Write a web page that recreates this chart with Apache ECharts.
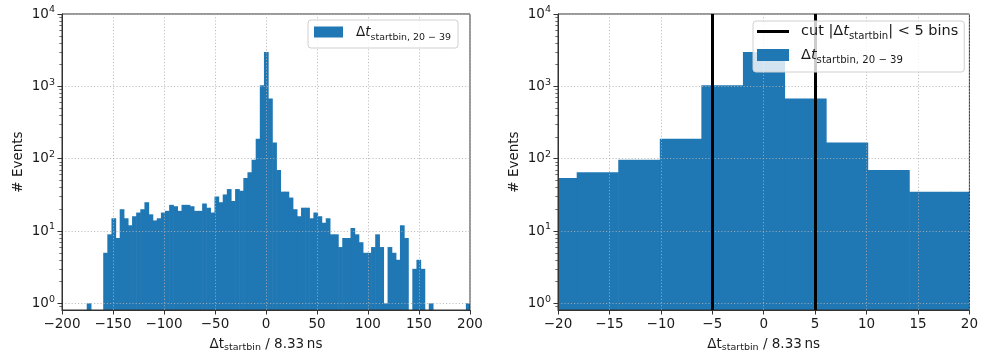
<!DOCTYPE html>
<html>
<head>
<meta charset="utf-8">
<script src="https://cdn.jsdelivr.net/npm/echarts@6/dist/echarts.min.js"></script>
<style>
  html, body { margin: 0; padding: 0; background: #ffffff; }
  #chart { width: 981px; height: 358px; }
</style>
</head>
<body>
<div id="chart"></div>
<script>
// Histogram binning: equal-width bins spanning [BIN_LOW, BIN_HIGH]
const BIN_LOW = -200;
const BIN_HIGH = 200;
const BIN_COUNT = 99;

// Events per bin, bin index 0 … 98
const COUNTS = [
  0, 0, 0, 0, 0, 0, 1, 0, 0, 0,
  5, 9, 15, 8, 20, 15, 12, 16, 18, 20,
  25, 17, 14, 15, 18, 19, 23, 22, 19, 23,
  23, 22, 19, 19, 24, 21, 18, 30, 25, 32,
  38, 26, 38, 36, 54, 65, 97, 189, 1035, 2974,
  680, 167, 70, 35, 35, 29, 20, 16, 21, 21,
  15, 18, 16, 13, 15, 9, 9, 6, 8, 8,
  11, 9, 7, 5, 5, 6, 9, 6, 1, 6,
  5, 4, 12, 8, 0, 3, 4, 3, 0, 1,
  0, 0, 0, 0, 0, 0, 0, 0, 1
];

// Selection cut on the start-bin difference
const CUT_POSITIONS = [-5, 5];

// Axis ticks
const LEFT_X_TICKS = [-200, -150, -100, -50, 0, 50, 100, 150, 200];
const RIGHT_X_TICKS = [-20, -15, -10, -5, 0, 5, 10, 15, 20];
const Y_TICKS = [1, 10, 100, 1000, 10000];
const Y_MINOR_TICKS = [
  0.9,
  2, 3, 4, 5, 6, 7, 8, 9,
  20, 30, 40, 50, 60, 70, 80, 90,
  200, 300, 400, 500, 600, 700, 800, 900,
  2000, 3000, 4000, 5000, 6000, 7000, 8000, 9000
];
const Y_MIN = 0.809;
const Y_MAX = 10000;

const FONT = 'DejaVu Sans';
const INK = '#1a1a1a';
const SPINE = '#333333';
const GRID_LINE = '#b0b0b0';
const BAR_COLOR = '#1f77b4';

const binWidth = (BIN_HIGH - BIN_LOW) / BIN_COUNT;
const histData = [];
COUNTS.forEach(function (n, k) {
  if (n > 0) histData.push([BIN_LOW + k * binWidth, BIN_LOW + (k + 1) * binWidth, n]);
});

function signed(v) {
  return v < 0 ? '\u2212' + Math.abs(v) : String(v);
}

// One filled histogram bin, from its count down to the bottom of the plot
function renderBin(params, api) {
  const x0 = api.value(0), x1 = api.value(1), n = api.value(2);
  const a = api.coord([x0, n]);
  const b = api.coord([x1, n]);
  const cs = params.coordSys;
  const bottom = cs.y + cs.height;
  const rect = echarts.graphic.clipRectByRect(
    { x: a[0], y: a[1], width: b[0] - a[0] + 0.6, height: bottom - a[1] },
    { x: cs.x, y: cs.y, width: cs.width, height: cs.height }
  );
  if (!rect) return null;
  return { type: 'rect', shape: rect, style: { fill: BAR_COLOR } };
}

const xNameRich = {
  m: { fontFamily: FONT, fontSize: 13.5, color: INK, lineHeight: 18, verticalAlign: 'middle' },
  s: { fontFamily: FONT, fontSize: 9.5, color: INK, lineHeight: 10, verticalAlign: 'bottom' }
};

function xAxisFor(gridIndex, min, max, interval, ticks) {
  return {
    type: 'value', gridIndex: gridIndex, min: min, max: max, interval: interval, z: 3,
    axisLine: { show: true, onZero: false, lineStyle: { color: SPINE, width: 1 } },
    axisTick: { show: true, inside: false, length: 4.5, customValues: ticks, lineStyle: { color: SPINE, width: 1 } },
    axisLabel: {
      show: true, margin: 7, customValues: ticks,
      fontFamily: FONT, fontSize: 13.5, color: INK, formatter: signed
    },
    splitLine: { show: true, lineStyle: { color: GRID_LINE, width: 0.8, type: [1.2, 2] } },
    name: '{m|\u0394t}{s|startbin}{m| / 8.33\u2009ns}',
    nameLocation: 'middle', nameGap: 25,
    nameTextStyle: { rich: xNameRich }
  };
}

function yAxisMajor(gridIndex) {
  return {
    type: 'log', logBase: 10, gridIndex: gridIndex, min: Y_MIN, max: Y_MAX, position: 'left', z: 3,
    axisLine: { show: true, onZero: false, lineStyle: { color: SPINE, width: 1 } },
    axisTick: { show: true, inside: false, length: 4.5, customValues: Y_TICKS, lineStyle: { color: SPINE, width: 1 } },
    axisLabel: {
      show: true, margin: 7, customValues: Y_TICKS,
      formatter: function (v) { return '{b|10}{e|' + Math.round(Math.log10(v)) + '}'; },
      rich: {
        b: { fontFamily: FONT, fontSize: 13.5, color: INK, lineHeight: 18, verticalAlign: 'middle' },
        e: { fontFamily: FONT, fontSize: 9.5, color: INK, lineHeight: 9, verticalAlign: 'top' }
      }
    },
    splitLine: { show: true, lineStyle: { color: GRID_LINE, width: 0.8, type: [1.2, 2] } },
    minorTick: { show: false },
    name: '# Events', nameLocation: 'middle', nameGap: 37,
    nameTextStyle: { fontFamily: FONT, fontSize: 13.5, color: INK }
  };
}

function yAxisMinor(gridIndex) {
  return {
    type: 'log', logBase: 10, gridIndex: gridIndex, min: Y_MIN, max: Y_MAX, position: 'left', z: 3,
    axisLine: { show: false, onZero: false },
    axisLabel: { show: false },
    splitLine: { show: false },
    axisTick: { show: true, inside: false, length: 2.7, customValues: Y_MINOR_TICKS, lineStyle: { color: SPINE, width: 0.7 } }
  };
}

const legendRich = function (size) {
  return {
    n: { fontFamily: FONT, fontSize: size, color: INK, lineHeight: 20, verticalAlign: 'middle' },
    t: { fontFamily: FONT, fontSize: size, fontStyle: 'italic', color: INK, lineHeight: 20, verticalAlign: 'middle' },
    s: { fontFamily: FONT, fontSize: size * 0.7, color: INK, lineHeight: 10, verticalAlign: 'bottom' }
  };
};

const HIST_LABEL = '{n|\u0394}{t|t}{s|startbin, 20 \u2212 39}';
const CUT_LABEL = '{n|cut |\u0394}{t|t}{s|startbin}{n|| < 5 bins}';

const option = {
  animation: false,
  backgroundColor: '#ffffff',
  grid: [
    { left: 62, top: 14, width: 408, height: 298, show: true, z: 3, borderColor: SPINE, borderWidth: 1, backgroundColor: 'transparent' },
    { left: 558, top: 14, width: 413, height: 298, show: true, z: 3, borderColor: SPINE, borderWidth: 1, backgroundColor: 'transparent' }
  ],
  xAxis: [
    xAxisFor(0, -200, 200, 50, LEFT_X_TICKS),
    xAxisFor(1, -20, 20, 5, RIGHT_X_TICKS)
  ],
  yAxis: [
    yAxisMajor(0), yAxisMinor(0),
    yAxisMajor(1), yAxisMinor(1)
  ],
  legend: [
    {
      left: 308, top: 20, orient: 'vertical', z: 6,
      selectedMode: false,
      data: [{ name: 'histLeft', icon: 'rect' }],
      itemWidth: 29, itemHeight: 11,
      backgroundColor: 'rgba(255,255,255,0.8)', borderColor: '#d0d0d0', borderWidth: 1, borderRadius: 3,
      padding: [5, 7, 6, 6],
      formatter: function () { return HIST_LABEL; },
      textStyle: { padding: [0, 0, 0, 8], rich: legendRich(13.5) }
    },
    {
      left: 753, top: 21, orient: 'vertical', z: 6,
      selectedMode: false,
      data: [
        { name: 'cut', icon: 'path://M0,0L34,0L34,3.2L0,3.2Z', itemStyle: { color: '#000000' } },
        { name: 'histRight', icon: 'rect' }
      ],
      itemWidth: 32, itemHeight: 12, itemGap: 6,
      backgroundColor: 'rgba(255,255,255,0.8)', borderColor: '#d0d0d0', borderWidth: 1, borderRadius: 3,
      padding: [3, 6, 7, 4],
      formatter: function (name) { return name === 'cut' ? CUT_LABEL : HIST_LABEL; },
      textStyle: { padding: [0, 0, 0, 7], rich: legendRich(14.5) }
    }
  ],
  series: [
    {
      type: 'custom', name: 'histLeft', xAxisIndex: 0, yAxisIndex: 0,
      data: histData, encode: { x: [0, 1], y: 2 }, renderItem: renderBin,
      itemStyle: { color: BAR_COLOR }, silent: true, z: 2
    },
    {
      type: 'custom', name: 'histRight', xAxisIndex: 1, yAxisIndex: 2,
      data: histData, encode: { x: [0, 1], y: 2 }, renderItem: renderBin,
      itemStyle: { color: BAR_COLOR }, silent: true, z: 2
    },
    {
      type: 'line', name: 'cut', xAxisIndex: 1, yAxisIndex: 2,
      data: [], symbol: 'none', z: 4, silent: true,
      itemStyle: { color: '#000000' },
      lineStyle: { color: '#000000', width: 3 },
      markLine: {
        silent: true, symbol: 'none', animation: false,
        label: { show: false },
        lineStyle: { color: '#000000', width: 3, type: 'solid' },
        data: CUT_POSITIONS.map(function (x) { return { xAxis: x }; })
      }
    }
  ]
};

const chart = echarts.init(document.getElementById('chart'), null, { renderer: 'canvas' });
chart.setOption(option);
</script>
</body>
</html>
